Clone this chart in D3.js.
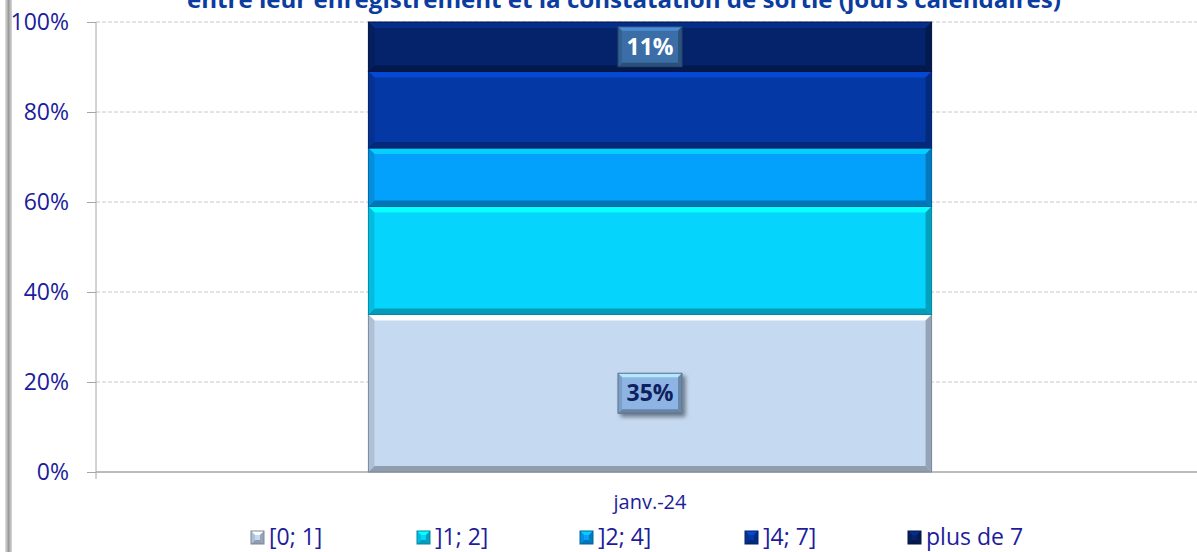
<!DOCTYPE html>
<html>
<head>
<meta charset="utf-8">
<script src="https://cdn.jsdelivr.net/npm/d3@7"></script>
<style>
  html, body { margin: 0; padding: 0; background: #fff; }
  svg { display: block; font-family: "Open Sans", "Noto Sans", sans-serif; }
</style>
</head>
<body>
<svg id="chart" width="1197" height="552"></svg>
<script>
// chart values
const categories = ["janv.-24"];
const seriesNames = ["[0; 1]", "]1; 2]", "]2; 4]", "]4; 7]", "plus de 7"];
const seriesValues = [35, 24, 13, 17, 11];   // % of total for janv.-24
const seriesColors = ["#C5D9F1", "#05D5FD", "#03A1FC", "#0438A5", "#04236B"];
const labelledSeries = ["[0; 1]", "plus de 7"];
const yTicks = [0, 0.2, 0.4, 0.6, 0.8, 1];
const titleText = "entre leur enregistrement et la constatation de sortie (jours calendaires)";

const width = 1197, height = 552;
const margin = { top: 22, right: -7, bottom: 80, left: 96 };
const textBlue = "#1C1C9C";

const svg = d3.select("#chart");
const defs = svg.append("defs");

// left frame shadow
const frameGrad = defs.append("linearGradient").attr("id", "frame").attr("x1", 0).attr("x2", 1);
frameGrad.append("stop").attr("offset", 0).attr("stop-color", "#e4e4e4");
frameGrad.append("stop").attr("offset", 0.5).attr("stop-color", "#9a9a9a");
frameGrad.append("stop").attr("offset", 1).attr("stop-color", "#d8d8d8");
svg.append("rect").attr("x", 5).attr("y", 0).attr("width", 7).attr("height", height).attr("fill", "url(#frame)");

const shadow = defs.append("filter").attr("id", "shadow").attr("x", -0.3).attr("y", -0.3).attr("width", 1.6).attr("height", 1.6);
shadow.append("feDropShadow").attr("dx", 3).attr("dy", 3).attr("stdDeviation", 2).attr("flood-color", "#000").attr("flood-opacity", 0.45);

const row = { cat: categories[0] };
seriesNames.forEach((s, i) => row[s] = seriesValues[i] / 100);
const stacked = d3.stack().keys(seriesNames)([row]);

const x = d3.scaleBand().domain(categories).range([margin.left, width - margin.right]).padding(0.326);
const y = d3.scaleLinear().domain([0, 1]).range([height - margin.bottom, margin.top]);
const color = d3.scaleOrdinal().domain(seriesNames).range(seriesColors);

// gridlines
svg.append("g")
  .selectAll("line")
  .data(yTicks.slice(1))
  .join("line")
  .attr("x1", margin.left).attr("x2", width)
  .attr("y1", d => y(d)).attr("y2", d => y(d))
  .attr("stroke", "#c8c8c8").attr("stroke-dasharray", "4,2");

// y axis
const yAxis = svg.append("g")
  .attr("transform", `translate(${margin.left},0)`)
  .call(d3.axisLeft(y).tickValues(yTicks).tickFormat(d3.format(".0%")).tickSize(9).tickPadding(18));
yAxis.select(".domain").remove();
yAxis.selectAll("line").attr("stroke", "#a6a6a6");
yAxis.selectAll("text").attr("fill", textBlue).attr("font-size", 23).attr("font-family", "Open Sans");
yAxis.append("line").attr("x1", 0).attr("x2", 0).attr("y1", y(1)).attr("y2", y(0) + 7).attr("stroke", "#a6a6a6");

// x axis
svg.append("line")
  .attr("x1", margin.left).attr("x2", width)
  .attr("y1", y(0)).attr("y2", y(0))
  .attr("stroke", "#a6a6a6").attr("stroke-width", 1.5);
svg.append("g")
  .selectAll("text")
  .data(categories)
  .join("text")
  .attr("x", d => x(d) + x.bandwidth() / 2)
  .attr("y", y(0) + 37)
  .attr("text-anchor", "middle")
  .attr("fill", textBlue).attr("font-size", 20)
  .text(d => d);

// bevelled rectangle helper
function bevel(g, x0, y0, x1, y1, fill, b) {
  const c = d3.color(fill);
  g.append("rect").attr("x", x0).attr("y", y0).attr("width", x1 - x0).attr("height", y1 - y0).attr("fill", fill);
  const faces = [
    [[x0, y0], [x1, y0], [x1 - b, y0 + b], [x0 + b, y0 + b], c.brighter(0.7)],
    [[x0, y1], [x1, y1], [x1 - b, y1 - b], [x0 + b, y1 - b], c.darker(0.9)],
    [[x0, y0], [x0 + b, y0 + b], [x0 + b, y1 - b], [x0, y1], c.darker(0.35)],
    [[x1, y0], [x1 - b, y0 + b], [x1 - b, y1 - b], [x1, y1], c.darker(0.8)]
  ];
  faces.forEach(f => {
    g.append("polygon").attr("points", f.slice(0, 4).map(p => p.join(",")).join(" ")).attr("fill", f[4]);
  });
  g.append("rect").attr("x", x0).attr("y", y0).attr("width", x1 - x0).attr("height", y1 - y0)
    .attr("fill", "none").attr("stroke", c.darker(1.3)).attr("stroke-width", 1);
}

// bars
const barG = svg.append("g");
stacked.forEach(layer => {
  layer.forEach(d => {
    const x0 = x(d.data.cat), x1 = x0 + x.bandwidth();
    bevel(barG.append("g"), x0, y(d[1]), x1, y(d[0]), color(layer.key), 6);
  });
});

// data labels
const labelStyle = {
  "[0; 1]": { box: "#8DB4E2", text: "#0F1F5F", shadow: true },
  "plus de 7": { box: "#3B6EA6", text: "#ffffff", shadow: false }
};
stacked.filter(l => labelledSeries.includes(l.key)).forEach(layer => {
  layer.forEach(d => {
    const cx = x(d.data.cat) + x.bandwidth() / 2;
    const cy = (y(d[0]) + y(d[1])) / 2;
    const st = labelStyle[layer.key];
    const lg = svg.append("g");
    if (st.shadow) lg.attr("filter", "url(#shadow)");
    bevel(lg, cx - 32, cy - 20, cx + 32, cy + 20, st.box, 4);
    svg.append("text")
      .attr("x", cx).attr("y", cy + 8)
      .attr("text-anchor", "middle")
      .attr("font-size", 23).attr("font-weight", "bold")
      .attr("fill", st.text)
      .text(d3.format(".0%")(d[1] - d[0]));
  });
});

// title (cut at top)
svg.append("text")
  .attr("x", 624).attr("y", 8)
  .attr("text-anchor", "middle")
  .attr("font-size", 24).attr("font-weight", "bold")
  .attr("fill", "#0B3C9F")
  .attr("textLength", 874).attr("lengthAdjust", "spacingAndGlyphs")
  .text(titleText);

// legend
const legendX = [251, 417, 580, 745, 908];
const legend = svg.append("g")
  .selectAll("g")
  .data(seriesNames)
  .join("g")
  .attr("transform", (d, i) => `translate(${legendX[i]},531)`);
legend.each(function (d) {
  const g = d3.select(this);
  bevel(g, 0, 0, 13, 13, color(d), 4);
});
legend.append("text")
  .attr("x", 18).attr("y", 14)
  .attr("fill", textBlue).attr("font-size", 23)
  .text(d => d);
</script>
</body>
</html>
